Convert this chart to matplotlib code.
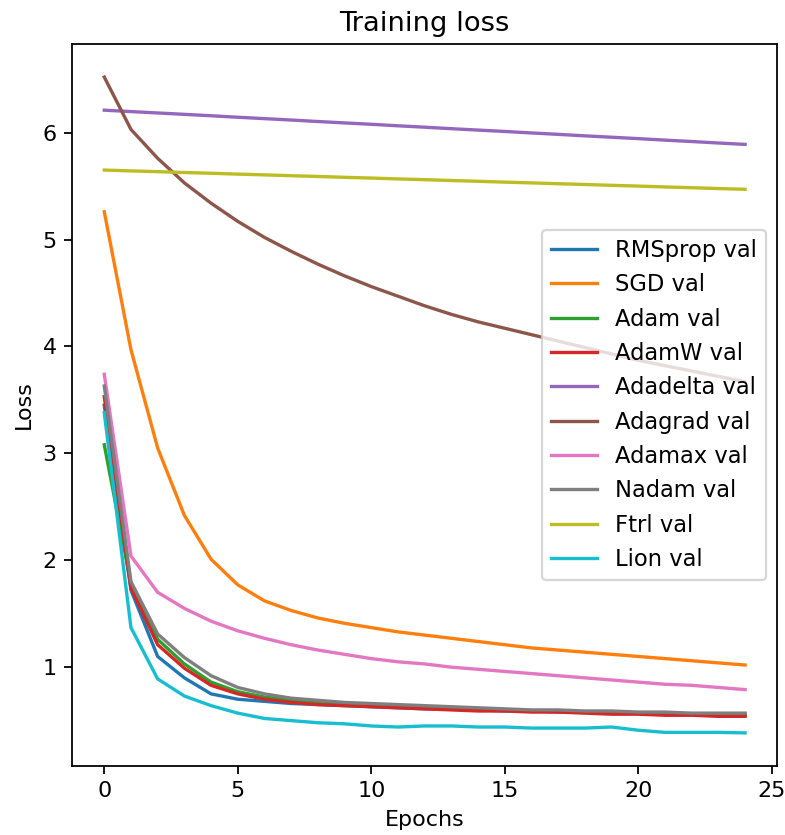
import matplotlib
matplotlib.use("Agg")
import matplotlib.pyplot as plt

# validation loss per optimizer
epochs = list(range(25))

rmsprop = [3.45, 1.72, 1.10, 0.90, 0.75, 0.70, 0.68, 0.66, 0.65, 0.64, 0.63, 0.62, 0.61,
           0.61, 0.60, 0.59, 0.59, 0.58, 0.58, 0.57, 0.57, 0.56, 0.56, 0.55, 0.55]
sgd = [5.26, 3.97, 3.05, 2.42, 2.01, 1.77, 1.62, 1.53, 1.46, 1.41, 1.37, 1.33, 1.30,
       1.27, 1.24, 1.21, 1.18, 1.16, 1.14, 1.12, 1.10, 1.08, 1.06, 1.04, 1.02]
adam = [3.08, 1.78, 1.26, 1.03, 0.86, 0.77, 0.72, 0.69, 0.67, 0.65, 0.64, 0.63, 0.62,
        0.61, 0.60, 0.60, 0.59, 0.59, 0.58, 0.58, 0.57, 0.57, 0.56, 0.56, 0.56]
adamw = [3.53, 1.74, 1.21, 0.99, 0.83, 0.75, 0.70, 0.67, 0.65, 0.64, 0.63, 0.62, 0.61,
         0.60, 0.59, 0.59, 0.58, 0.58, 0.57, 0.56, 0.56, 0.55, 0.55, 0.54, 0.54]
adadelta = [6.210, 6.197, 6.184, 6.171, 6.158, 6.144, 6.131, 6.118, 6.104, 6.091, 6.078,
            6.064, 6.051, 6.037, 6.024, 6.011, 5.997, 5.984, 5.970, 5.957, 5.944, 5.930,
            5.917, 5.903, 5.890]
adagrad = [6.52, 6.03, 5.76, 5.53, 5.34, 5.17, 5.02, 4.89, 4.77, 4.66, 4.56, 4.47, 4.38,
           4.30, 4.23, 4.17, 4.11, 4.05, 3.99, 3.93, 3.87, 3.82, 3.77, 3.72, 3.67]
adamax = [3.74, 2.04, 1.70, 1.55, 1.43, 1.34, 1.27, 1.21, 1.16, 1.12, 1.08, 1.05, 1.03,
          1.00, 0.98, 0.96, 0.94, 0.92, 0.90, 0.88, 0.86, 0.84, 0.83, 0.81, 0.79]
nadam = [3.63, 1.80, 1.31, 1.09, 0.92, 0.81, 0.75, 0.71, 0.69, 0.67, 0.66, 0.65, 0.64,
         0.63, 0.62, 0.61, 0.60, 0.60, 0.59, 0.59, 0.58, 0.58, 0.57, 0.57, 0.57]
ftrl = [5.650, 5.642, 5.635, 5.627, 5.620, 5.612, 5.605, 5.597, 5.590, 5.582, 5.575,
        5.567, 5.560, 5.552, 5.545, 5.537, 5.530, 5.522, 5.515, 5.507, 5.500, 5.492,
        5.485, 5.477, 5.470]
lion = [3.38, 1.37, 0.89, 0.73, 0.64, 0.57, 0.52, 0.50, 0.48, 0.47, 0.45, 0.44, 0.45,
        0.45, 0.44, 0.44, 0.43, 0.43, 0.43, 0.44, 0.41, 0.39, 0.39, 0.39, 0.385]

names = ["RMSprop", "SGD", "Adam", "AdamW", "Adadelta", "Adagrad", "Adamax", "Nadam", "Ftrl", "Lion"]
series = [rmsprop, sgd, adam, adamw, adadelta, adagrad, adamax, nadam, ftrl, lion]

fig, ax = plt.subplots(figsize=(785 / 160, 835 / 160), dpi=160)
fig.subplots_adjust(left=0.092, right=0.99, top=0.947, bottom=0.083)

for name, vals in zip(names, series):
    ax.plot(epochs, vals, label=f"{name} val")

ax.set_title("Training loss", fontsize=12.3)
ax.set_xlabel("Epochs")
ax.set_ylabel("Loss")
ax.legend(loc="center right", fontsize=10.2)

fig.savefig("out.png", dpi=160)
